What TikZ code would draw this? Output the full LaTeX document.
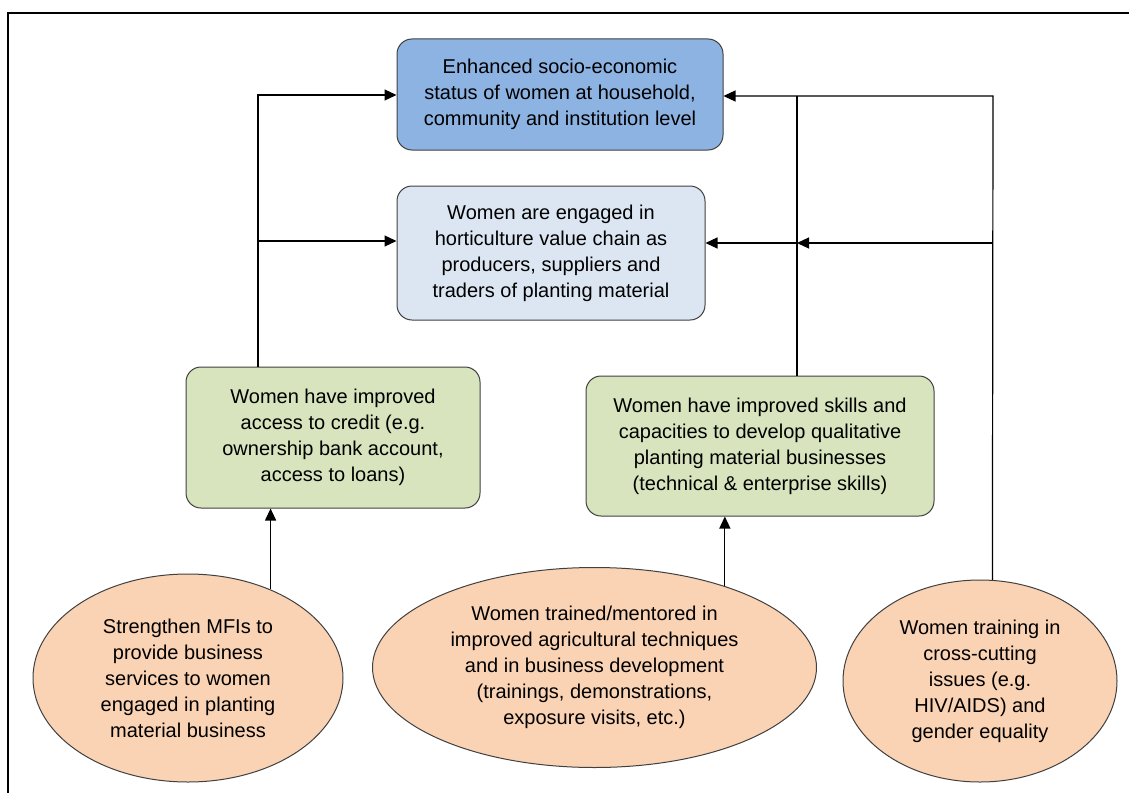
\documentclass[tikz,border=0pt]{standalone}
\usepackage{fontspec}
\setmainfont{Liberation Sans}
\usetikzlibrary{shapes.geometric, arrows.meta, positioning}

\definecolor{outcomeblue}{HTML}{8DB3E2}
\definecolor{paleblue}{HTML}{DCE6F2}
\definecolor{resultgreen}{HTML}{D7E4BD}
\definecolor{actpeach}{HTML}{FAD3B4}
\definecolor{edgegray}{HTML}{404040}

\begin{document}
\begin{tikzpicture}[
    x=1pt, y=-1pt,
    every node/.style={font=\fontsize{20}{26}\selectfont, align=center, inner sep=0pt},
    box/.style={rectangle, rounded corners=15pt, draw=edgegray, line width=1pt},
    activity/.style={ellipse, draw=edgegray, line width=1pt, fill=actpeach},
    arrow/.style={-{Triangle[length=12pt,width=11pt]}, line width=1.2pt}
  ]
    \useasboundingbox (0,0) rectangle (1129,792);
    \draw[line width=2pt] (8,800) -- (8,13) -- (1140,13);

    \node[box, fill=outcomeblue, minimum width=326pt, minimum height=111pt] (status) at (560,94.5)
      {Enhanced socio-economic\\status of women at household,\\community and institution level};
    \node[box, fill=paleblue, minimum width=308pt, minimum height=134pt] (engaged) at (551,253)
      {Women are engaged in\\horticulture value chain as\\producers, suppliers and\\traders of planting material};
    \node[box, fill=resultgreen, minimum width=294pt, minimum height=141pt] (credit) at (333,437.5)
      {Women have improved\\access to credit (e.g.\\ownership bank account,\\access to loans)};
    \node[box, fill=resultgreen, minimum width=348pt, minimum height=140pt] (skills) at (760,446)
      {Women have improved skills and\\capacities to develop qualitative\\planting material businesses\\(technical \& enterprise skills)};

    \node[activity, minimum width=310pt, minimum height=208pt] (mfi) at (188,678)
      {Strengthen MFIs to\\provide business\\services to women\\engaged in planting\\material business};
    \node[activity, minimum width=444pt, minimum height=200pt] (mentor) at (594.5,667.5)
      {Women trained/mentored in\\improved agricultural techniques\\and in business development\\(trainings, demonstrations,\\exposure visits, etc.)};
    \node[activity, minimum width=274pt, minimum height=202pt] (gender) at (980,681)
      {Women training in\\cross-cutting\\issues (e.g.\\HIV/AIDS) and\\gender equality};

    \coordinate (jl1) at (258,95);
    \coordinate (jl2) at (258,241);
    \coordinate (jm1) at (797,96);
    \coordinate (jm2) at (797,243);
    \coordinate (jr1) at (993,96);
    \coordinate (jr2) at (993,243);

    % left branch
    \draw[arrow] (credit.north -| jl1) -- (jl1) -- (jl1 -| status.west);
    \draw[arrow] (jl2) -- (jl2 -| engaged.west);
    % right branch
    \draw[arrow] (gender.83) -- (jr1) -- (jr1 -| status.east);
    \draw[arrow] (jr2) -- (jm2);
    \draw[arrow] (skills.north -| jm1) -- (jm2) -- (jm2 -| engaged.east);
    \draw[line width=1.2pt] (jm2) -- (jm1);
    % activities to results
    \draw[arrow] (mfi.47) -- (mfi.47 |- credit.south);
    \draw[arrow] (mentor.32) -- (mentor.32 |- skills.south);
  \end{tikzpicture}
\end{document}
